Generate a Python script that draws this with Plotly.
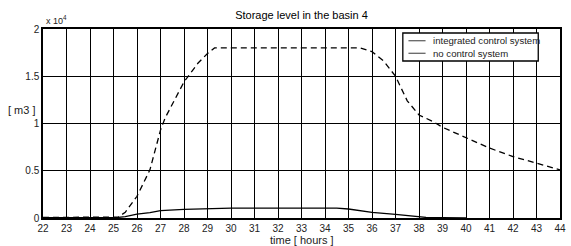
import plotly.graph_objects as go

# time [hours]
t_no = [22, 23, 24, 25, 25.2, 25.5, 26, 26.55, 27, 27.2, 28, 28.6, 29, 29.3, 30, 31, 32, 33, 34, 35, 35.5,
        36, 36.5, 37, 37.5, 38, 38.6, 39, 40, 41, 42, 43, 44]
# storage level without control [m3]
v_no = [60, 60, 60, 80, 100, 600, 2300, 5100, 9300, 10600, 14400, 16400, 17400, 18000, 18000, 18000, 18000,
        18000, 18000, 18000, 18000, 17600, 16600, 15000, 12400, 10900, 10200, 9600, 8500, 7400, 6500, 5800, 5100]

t_int = [22, 23, 24, 25, 25.2, 25.5, 26, 26.55, 27, 28, 29, 30, 31, 32, 33, 34, 34.5, 35, 36, 37, 38, 38.3, 39, 40]
# storage level with integrated control [m3]
v_int = [40, 40, 40, 50, 60, 150, 400, 560, 770, 920, 1020, 1050, 1050, 1050, 1050, 1050, 1050, 950, 600,
         390, 140, 60, 30, 10]

SCALE = 1e4
x_ticks = list(range(22, 45))
y_ticks = [0, 0.5, 1, 1.5, 2]

FONT = "Liberation Sans, Arial, sans-serif"
W, H = 571, 246
L, R, T, B = 43, 566, 29, 218  # plot area in pixels
PW, PH = R - L, B - T


def px(x):
    return (x - L) / PW


def py(y):
    return (B - y) / PH


fig = go.Figure()
fig.add_trace(go.Scatter(x=t_no, y=[v / SCALE for v in v_no], mode="lines",
                         line=dict(color="black", width=1.3, dash="6px,4px"),
                         name="no control system", showlegend=False))
fig.add_trace(go.Scatter(x=t_int, y=[v / SCALE for v in v_int], mode="lines",
                         line=dict(color="black", width=1.3),
                         name="integrated control system", showlegend=False))

fig.update_layout(
    width=W, height=H,
    margin=dict(l=L, r=W - R, t=T, b=H - B),
    paper_bgcolor="white", plot_bgcolor="white",
    font=dict(family=FONT, size=10, color="black"),
    title=dict(text="Storage level in the basin 4", x=0.5, xref="paper", y=1 - 15 / H,
               yref="container", yanchor="middle", xanchor="center",
               font=dict(size=11, family=FONT, color="black")),
    xaxis=dict(range=[22, 44], tickvals=x_ticks, ticktext=[str(v) for v in x_ticks],
               showgrid=True, gridcolor="black", gridwidth=1, zeroline=False,
               showline=True, linecolor="black", linewidth=1.5, mirror=True,
               ticks="", tickfont=dict(size=10, color="#222")),
    yaxis=dict(range=[0, 2], tickvals=y_ticks, ticktext=["0", "0.5", "1", "1.5", "2"],
               showgrid=True, gridcolor="black", gridwidth=1, zeroline=False,
               showline=True, linecolor="black", linewidth=1.5, mirror=True,
               ticks="", tickfont=dict(size=10, color="#222")),
    showlegend=False,
)

# axis labels and exponent
fig.add_annotation(text="time [ hours ]", xref="paper", yref="paper", x=0.5, y=py(240),
                   showarrow=False, font=dict(size=11, color="#222"), yanchor="middle")
fig.add_annotation(text="[ m3 ]", xref="paper", yref="paper", x=px(21.5), y=py(110),
                   showarrow=False, font=dict(size=11, color="#222"), xanchor="center", yanchor="middle")
fig.add_annotation(text="x 10<sup>4</sup>", xref="paper", yref="paper", x=px(44), y=py(20),
                   showarrow=False, font=dict(size=9, color="#222"), xanchor="left", yanchor="middle")

# legend box drawn manually
fig.add_shape(type="rect", xref="paper", yref="paper", x0=px(407), x1=px(544), y0=py(61), y1=py(33),
              line=dict(color="black", width=1.3), fillcolor="white", layer="above")
names = ["integrated control system", "no control system"]
ys = [40.7, 53.3]
for nm, yy in zip(names, ys):
    fig.add_shape(type="line", xref="paper", yref="paper", x0=px(412.7), x1=px(430),
                  y0=py(yy), y1=py(yy), line=dict(color="#666", width=1.3), layer="above")
    fig.add_annotation(text=nm, xref="paper", yref="paper", x=px(435), y=py(yy), showarrow=False,
                       xanchor="left", yanchor="middle", font=dict(size=9.6, color="#222"))

fig.write_html("out.html", config={"displayModeBar": False},
               post_script="document.body.style.margin='0';document.body.style.overflow='hidden';")
